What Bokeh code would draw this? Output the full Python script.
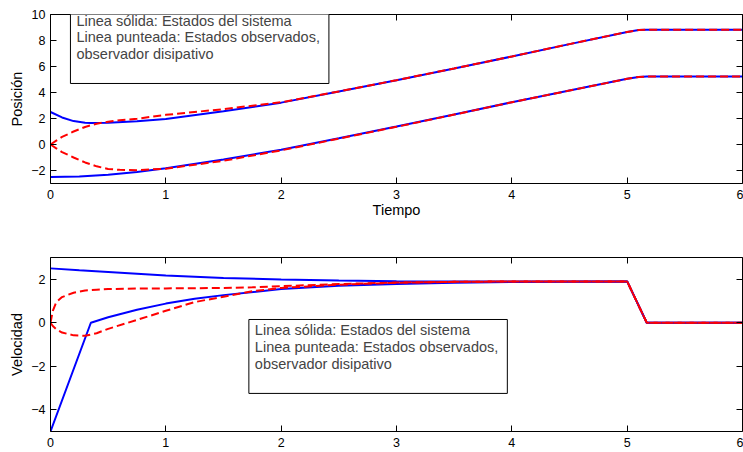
from bokeh.plotting import figure
from bokeh.layouts import column
from bokeh.models import Range1d, LinearAxis, FixedTicker, CustomJSTickFormatter, Label
from bokeh.embed import file_html
from bokeh.resources import INLINE

# ---------------- data ----------------
x_ticks = [0, 1, 2, 3, 4, 5, 6]
pos_ticks = [-2, 0, 2, 4, 6, 8, 10]
vel_ticks = [-4, -2, 0, 2]

# Position: system states (solid blue)
t_pos1 = [0, 0.1, 0.2, 0.3, 0.35, 0.5, 0.75, 1.0, 1.5, 2.0, 2.5, 3.0, 3.5, 4.0, 4.5, 5.0, 5.1, 5.17, 6.0]
pos1_sys = [2.5, 2.08, 1.8, 1.67, 1.65, 1.68, 1.78, 1.97, 2.55, 3.22, 4.08, 4.95, 5.85, 6.77, 7.72, 8.66, 8.8, 8.83, 8.83]
t_pos2 = [0, 0.25, 0.5, 0.75, 1.0, 1.5, 2.0, 2.5, 3.0, 3.5, 4.0, 4.5, 5.0, 5.1, 5.17, 6.0]
pos2_sys = [-2.5, -2.46, -2.32, -2.12, -1.83, -1.15, -0.4, 0.48, 1.38, 2.3, 3.25, 4.15, 5.05, 5.2, 5.23, 5.23]

# Position: observed states (dashed red)
t_pos_obs = [0, 0.05, 0.1, 0.2, 0.3, 0.4, 0.5, 0.6, 0.75, 1.0, 1.5, 2.0, 2.5, 3.0, 3.5, 4.0, 4.5, 5.0, 5.1, 5.17, 6.0]
pos1_obs = [0, 0.3, 0.58, 1.0, 1.35, 1.6, 1.75, 1.86, 1.98, 2.28, 2.72, 3.25, 4.08, 4.95, 5.85, 6.77, 7.72, 8.66, 8.8, 8.83, 8.83]
pos2_obs = [0, -0.3, -0.58, -1.0, -1.38, -1.68, -1.88, -1.95, -1.98, -1.86, -1.25, -0.45, 0.45, 1.36, 2.3, 3.25, 4.15, 5.05, 5.2, 5.23, 5.23]

# Velocity: system states (solid blue)
t_vel1 = [0, 0.25, 0.5, 1.0, 1.5, 2.0, 2.5, 3.0, 3.5, 4.0, 4.5, 5.0, 5.17, 6.0]
vel1_sys = [2.5, 2.41, 2.33, 2.17, 2.06, 1.99, 1.94, 1.91, 1.9, 1.9, 1.9, 1.9, 0, 0]
t_vel2 = [0, 0.35, 0.5, 0.75, 1.0, 1.25, 1.5, 2.0, 2.5, 3.0, 3.5, 4.0, 4.5, 5.0, 5.17, 6.0]
vel2_sys = [-5, 0, 0.25, 0.6, 0.88, 1.1, 1.27, 1.55, 1.7, 1.78, 1.84, 1.87, 1.89, 1.9, 0, 0]

# Velocity: observed states (dashed red)
t_vel_obs = [0, 0.02, 0.05, 0.1, 0.2, 0.3, 0.4, 0.5, 0.75, 1.0, 1.25, 1.5, 1.75, 2.0, 2.5, 3.0, 3.5, 4.0, 4.5, 5.0, 5.17, 6.0]
vel1_obs = [0, 0.55, 0.95, 1.18, 1.38, 1.48, 1.52, 1.55, 1.57, 1.58, 1.59, 1.6, 1.63, 1.68, 1.78, 1.85, 1.88, 1.9, 1.9, 1.9, 0, 0]
vel2_obs = [0, -0.15, -0.3, -0.45, -0.58, -0.6, -0.48, -0.28, 0.13, 0.55, 0.95, 1.2, 1.45, 1.6, 1.75, 1.84, 1.88, 1.9, 1.9, 1.9, 0, 0]

legend_text = "Linea sólida: Estados del sistema\nLinea punteada: Estados observados,\nobservador disipativo\n "

FONT = "Liberation Sans"
BLUE = "#0000ff"
RED = "#ff0000"

fmt_js = "return tick < 0 ? '\u2212' + Math.abs(tick) : tick.toString();"


def style(p, xt, yt, xlabel, ylabel):
    p.xgrid.visible = False
    p.ygrid.visible = False
    p.outline_line_color = None
    p.background_fill_color = "white"
    p.border_fill_color = "white"
    p.xaxis.ticker = FixedTicker(ticks=xt)
    p.yaxis.ticker = FixedTicker(ticks=yt)
    p.yaxis.formatter = CustomJSTickFormatter(code=fmt_js)
    for ax in (p.xaxis[0], p.yaxis[0]):
        ax.major_tick_in = 6
        ax.major_tick_out = 0
        ax.minor_tick_in = 0
        ax.minor_tick_out = 0
        ax.axis_line_color = "black"
        ax.major_tick_line_color = "black"
        ax.major_label_text_font = FONT
        ax.major_label_text_font_size = "12.5px"
        ax.major_label_text_color = "black"
        ax.axis_label_text_font = FONT
        ax.axis_label_text_font_size = "14.5px"
        ax.axis_label_text_font_style = "normal"
        ax.axis_label_text_color = "black"
    p.xaxis.major_label_standoff = 6
    p.yaxis.major_label_standoff = 5
    p.yaxis.axis_label_standoff = 3
    p.xaxis.axis_label_standoff = 0
    if xlabel:
        p.xaxis.axis_label = xlabel
    p.yaxis.axis_label = ylabel
    empty = CustomJSTickFormatter(code="return '';")
    for loc, tk in (("above", xt), ("right", yt)):
        ax = LinearAxis(ticker=FixedTicker(ticks=tk), formatter=empty,
                        major_tick_in=6, major_tick_out=0, minor_tick_in=0, minor_tick_out=0,
                        major_label_standoff=0, major_label_text_font_size="1px",
                        axis_line_color="black", major_tick_line_color="black")
        p.add_layout(ax, loc)


def legend_box(x, y):
    return Label(x=x, y=y, text=legend_text, text_font=FONT, text_font_size="14.5px",
                 text_align="left", text_baseline="top", text_line_height=1.04,
                 background_fill_color="white", border_line_color="black", border_line_width=1,
                 padding=dict(left=6, right=9, top=3, bottom=5))


p1 = figure(frame_width=692, frame_height=169, x_range=Range1d(0, 6), y_range=Range1d(-3, 10),
            output_backend="svg", toolbar_location=None,
            min_border_left=50, min_border_right=1, min_border_top=14, min_border_bottom=45)
style(p1, x_ticks, pos_ticks, "Tiempo", "Posición")
p1.line(t_pos1, pos1_sys, line_color=BLUE, line_width=2)
p1.line(t_pos2, pos2_sys, line_color=BLUE, line_width=2)
p1.line(t_pos_obs, pos1_obs, line_color=RED, line_width=2, line_dash="8 4")
p1.line(t_pos_obs, pos2_obs, line_color=RED, line_width=2, line_dash="8 4")
p1.add_layout(legend_box(0.173, 10.38))

p2 = figure(frame_width=692, frame_height=174, x_range=Range1d(0, 6), y_range=Range1d(-5, 3),
            output_backend="svg", toolbar_location=None,
            min_border_left=50, min_border_right=1, min_border_top=29, min_border_bottom=21)
style(p2, x_ticks, vel_ticks, None, "Velocidad")
p2.xaxis.major_label_standoff = 6
p2.line(t_vel1, vel1_sys, line_color=BLUE, line_width=2)
p2.line(t_vel2, vel2_sys, line_color=BLUE, line_width=2)
p2.line(t_vel_obs, vel1_obs, line_color=RED, line_width=2, line_dash="8 4")
p2.line(t_vel_obs, vel2_obs, line_color=RED, line_width=2, line_dash="8 4")
p2.add_layout(legend_box(1.72, 0.15))

layout = column(p1, p2)
open("out.html", "w").write(file_html(layout, INLINE))
